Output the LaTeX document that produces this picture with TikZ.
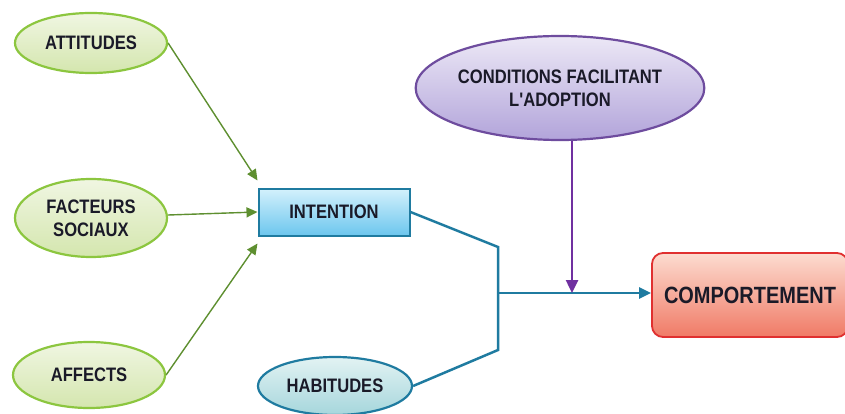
\documentclass[tikz,border=0pt]{standalone}
\usepackage{fontspec}
\setmainfont{Liberation Sans}
\newfontfamily\labelfont[FakeStretch=0.85]{Liberation Sans}
\usetikzlibrary{shapes.geometric,arrows.meta,calc}

\definecolor{greenline}{HTML}{8CC63F}
\definecolor{greenarrow}{HTML}{5E8F30}
\definecolor{greentop}{HTML}{F0F6E2}
\definecolor{greenbot}{HTML}{D4E6AE}
\definecolor{blueline}{HTML}{1F7BA0}
\definecolor{bluetop}{HTML}{D4F1FC}
\definecolor{bluebot}{HTML}{6CC6EE}
\definecolor{tealtop}{HTML}{E2F3F3}
\definecolor{tealbot}{HTML}{A6D6DC}
\definecolor{purpleline}{HTML}{6E4C9E}
\definecolor{purplearrow}{HTML}{7030A0}
\definecolor{purpletop}{HTML}{ECE8F6}
\definecolor{purplebot}{HTML}{B2A4DA}
\definecolor{redline}{HTML}{E03030}
\definecolor{redtop}{HTML}{FCDCD0}
\definecolor{redbot}{HTML}{F07A66}
\definecolor{inkcol}{HTML}{1A1A28}

\tikzset{
  lbl/.style={font=\labelfont\bfseries\fontsize{19.5}{23}\selectfont, text=inkcol, align=center, inner sep=0pt},
  factor/.style={lbl, ellipse, draw=greenline, line width=2.2pt, top color=greentop, bottom color=greenbot},
  intentbox/.style={lbl, rectangle, draw=blueline, line width=2pt, top color=bluetop, bottom color=bluebot},
  habitbox/.style={lbl, ellipse, draw=blueline, line width=2.2pt, top color=tealtop, bottom color=tealbot},
  condbox/.style={lbl, ellipse, draw=purpleline, line width=2.2pt, top color=purpletop, bottom color=purplebot},
  outbox/.style={lbl, font=\labelfont\bfseries\fontsize{23.5}{26}\selectfont, rectangle, rounded corners=11pt, draw=redline, line width=1.8pt, top color=redtop, bottom color=redbot},
  greenarr/.style={draw=greenarrow, line width=1.4pt, -{Triangle[length=11pt,width=10pt]}},
  bluelink/.style={draw=blueline, line width=2.5pt},
  bluearr/.style={bluelink, -{Triangle[length=12pt,width=11pt]}},
  purplearr/.style={draw=purplearrow, line width=2.5pt, -{Triangle[length=13pt,width=12pt]}},
}

\begin{document}
\begin{tikzpicture}[x=1pt,y=-1pt]
  \useasboundingbox (0,0) rectangle (845,414);

  % influencing factors
  \node[factor, minimum width=152pt, minimum height=60pt] (att) at (91,43) {ATTITUDES};
  \node[factor, minimum width=152pt, minimum height=78pt] (fac) at (91,218) {FACTEURS\\SOCIAUX};
  \node[factor, minimum width=152pt, minimum height=66pt] (aff) at (89,375) {AFFECTS};

  % intention and habits
  \node[intentbox, minimum width=151pt, minimum height=47pt] (int) at (334,212) {INTENTION};
  \node[habitbox, minimum width=154pt, minimum height=58pt] (hab) at (335,386) {HABITUDES};

  % facilitating conditions and resulting behaviour
  \node[condbox, minimum width=234pt, minimum height=104pt] (cond) at (560,88) {CONDITIONS FACILITANT\\L'ADOPTION};
  \node[outbox, minimum width=196pt, minimum height=84pt] (comp) at (750,295) {COMPORTEMENT};

  % anchor points of the links
  \coordinate (inTop) at ($(int.north west)+(0,-7)$);
  \coordinate (inBot) at ($(int.south west)+(0,7)$);
  \coordinate (bendTop) at (498,247);
  \coordinate (bendBot) at (498,350);
  \coordinate (join) at (498,293);
  \coordinate (meet) at (572,293);

  % links into the intention
  \draw[greenarr] (att.east) -- (inTop);
  \draw[greenarr] ($(fac.east)+(0,-3)$) -- (int.west);
  \draw[greenarr] (aff.east) -- (inBot);

  % intention and habits merge into behaviour
  \draw[bluelink, line join=miter] (int.east) -- (bendTop) -- (bendBot) -- (hab.east);
  \draw[bluearr] (join) -- (join -| comp.west);

  % moderating conditions
  \draw[purplearr] (cond.south -| meet) -- (meet);
\end{tikzpicture}
\end{document}
